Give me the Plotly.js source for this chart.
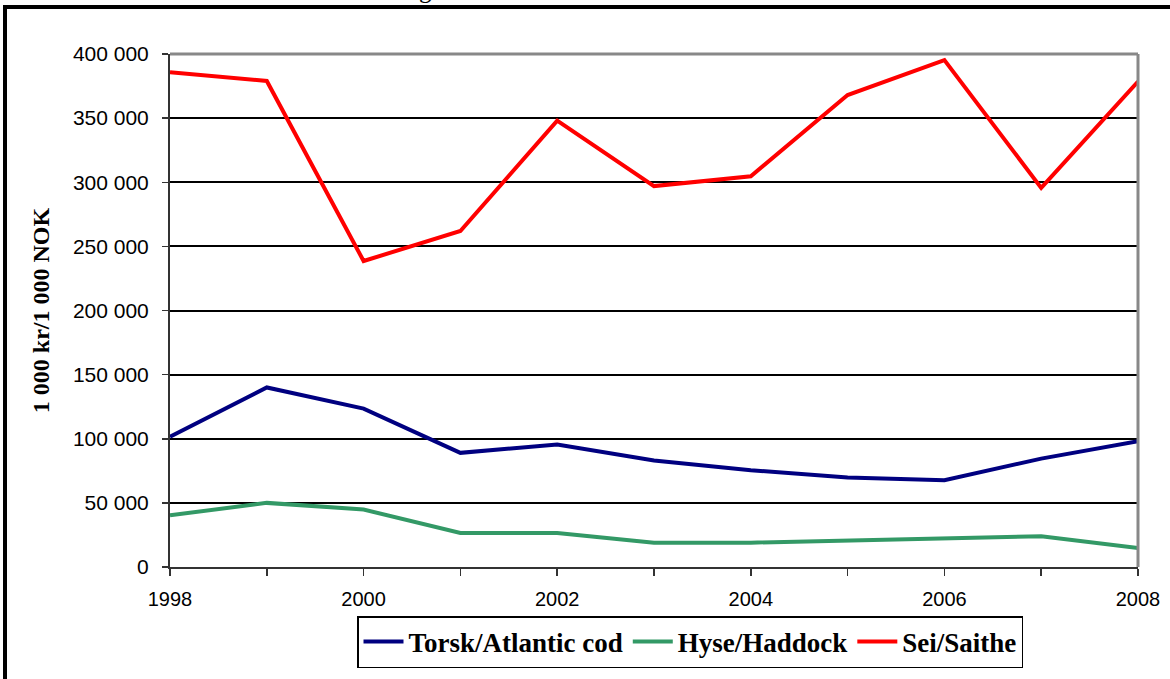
<!DOCTYPE html>
<html>
<head>
<meta charset="utf-8">
<script src="https://cdn.plot.ly/plotly-3.0.1.min.js"></script>
<style>
  html, body { margin: 0; padding: 0; background: #ffffff; }
  #chart { width: 1170px; height: 679px; }
</style>
</head>
<body>
<div id="chart"></div>
<script>
const years = [1998, 1999, 2000, 2001, 2002, 2003, 2004, 2005, 2006, 2007, 2008];
const cod = [101500, 140000, 123500, 89000, 95500, 83000, 75500, 69800, 67700, 84500, 98000];
const haddock = [40300, 50000, 44800, 26600, 26600, 19000, 19000, 20800, 22700, 24000, 14800];
const saithe = [385800, 379000, 238600, 262000, 348000, 297000, 304700, 368000, 395300, 295600, 378500];
const seriesNames = ["Torsk/Atlantic cod", "Hyse/Haddock", "Sei/Saithe"];
const seriesColors = ["#000080", "#339966", "#FF0000"];
const yTitle = "1 000 kr/1 000 NOK";
const topFragment = "g";

const W = 1170, H = 679;
const L = 170, R = 32, T = 54, B = 111;
const pw = W - L - R, ph = H - T - B;
const px = x => (x - L) / pw;          // pixel -> paper x
const py = y => (H - B - y) / ph;      // pixel -> paper y

const vals = [cod, haddock, saithe];
const traces = vals.map((v, i) => ({
  type: "scatter",
  mode: "lines",
  x: years,
  y: v,
  name: seriesNames[i],
  line: { color: seriesColors[i], width: 4 },
  hoverinfo: "skip"
}));

const layout = {
  width: W, height: H,
  margin: { l: L, r: R, t: T, b: B, pad: 0 },
  paper_bgcolor: "#ffffff",
  plot_bgcolor: "#ffffff",
  separators: ", ",
  font: { family: "Liberation Sans, Arial, sans-serif", size: 20, color: "#000000" },
  showlegend: true,
  legend: {
    orientation: "h",
    x: px(690), xanchor: "center",
    y: py(642), yanchor: "middle",
    bgcolor: "#ffffff",
    bordercolor: "#000000",
    borderwidth: 1.5,
    font: { family: "Liberation Serif, Times New Roman, serif", size: 27, color: "#000000", weight: "bold" },
    itemwidth: 40,
    tracegroupgap: 0
  },
  xaxis: {
    range: [1998, 2008],
    tickmode: "linear", tick0: 1998, dtick: 2,
    ticks: "outside", ticklen: 7, tickwidth: 1.5, tickcolor: "#333333",
    minor: { dtick: 1, tick0: 1998, ticks: "outside", ticklen: 7, tickwidth: 1.5, tickcolor: "#333333", showgrid: false },
    showgrid: false, zeroline: false,
    showline: true, linecolor: "#333333", linewidth: 2,
    tickfont: { family: "Liberation Sans, Arial, sans-serif", size: 20, color: "#000000" },
    ticklabelstandoff: 6,
    fixedrange: true
  },
  yaxis: {
    range: [0, 400000],
    tickmode: "linear", tick0: 0, dtick: 50000,
    tickformat: ",d",
    ticks: "outside", ticklen: 6, tickwidth: 1.5, tickcolor: "#333333",
    showgrid: true, gridcolor: "#000000", gridwidth: 2,
    zeroline: false,
    showline: true, linecolor: "#333333", linewidth: 2,
    tickfont: { family: "Liberation Sans, Arial, sans-serif", size: 21, color: "#000000" },
    ticklabelstandoff: 9,
    title: {
      text: yTitle,
      font: { family: "Liberation Serif, Times New Roman, serif", size: 24, color: "#000000", weight: "bold" },
      standoff: 16
    },
    automargin: false,
    fixedrange: true
  },
  shapes: [
    { type: "line", xref: "paper", yref: "paper", x0: 0, x1: 1, y0: 1, y1: 1,
      line: { color: "#888888", width: 3 }, layer: "above" },
    { type: "line", xref: "paper", yref: "paper", x0: 1, x1: 1, y0: 0, y1: 1,
      line: { color: "#888888", width: 3 }, layer: "above" },
    { type: "rect", xref: "paper", yref: "paper",
      x0: px(5), x1: px(1300), y0: py(800), y1: py(7),
      line: { color: "#000000", width: 4 }, fillcolor: "rgba(0,0,0,0)", layer: "above" }
  ],
  annotations: [
    { xref: "paper", yref: "paper", x: px(425), y: py(-11), xanchor: "center", yanchor: "middle",
      text: topFragment, showarrow: false,
      font: { family: "Liberation Serif, Times New Roman, serif", size: 25, color: "#000000" } }
  ]
};

Plotly.newPlot("chart", traces, layout, { staticPlot: true, displayModeBar: false });
</script>
</body>
</html>
